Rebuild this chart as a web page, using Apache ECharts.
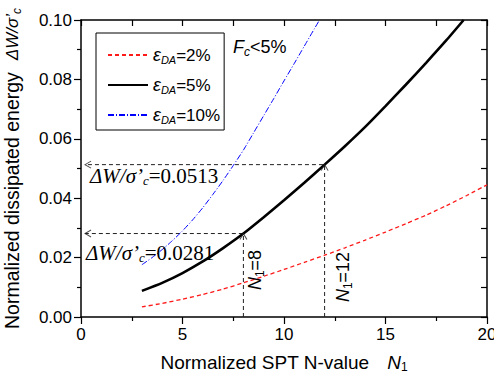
<!DOCTYPE html>
<html><head><meta charset="utf-8">
<script src="https://cdn.jsdelivr.net/npm/echarts@6/dist/echarts.min.js"></script>
<style>html,body{margin:0;padding:0;background:#fff}#c{width:494px;height:381px}</style>
</head><body><div id="c"></div>
<script>
// ---- data ----
const nRed = [3,4,5,6,7,8,9,10,11,12,13,14,15,16,17,18,19,20];
const wRed = [0.0034,0.0046,0.0060,0.0076,0.0094,0.0115,0.0137,0.0160,0.0184,0.0208,0.0233,0.0259,0.0286,0.0314,0.0343,0.0375,0.0409,0.0445];
const nBlack = [3,4,5,6,7,8,9,10,11,12,13,14,15,16,17,18,18.85];
const wBlack = [0.0088,0.0115,0.0148,0.0187,0.0232,0.0281,0.0336,0.0393,0.0452,0.0513,0.0575,0.0640,0.0710,0.0782,0.0856,0.0932,0.1000];
const nBlue = [3,3.5,4,4.5,5,5.5,6,6.5,7,7.5,8,8.5,9,9.5,10,10.5,11,11.5,11.75];
const wBlue = [0.0176,0.0200,0.0227,0.0257,0.0290,0.0327,0.0368,0.0413,0.0460,0.0510,0.0562,0.0620,0.0678,0.0736,0.0795,0.0853,0.0912,0.0971,0.1000];
const epsLabels = ['2%','5%','10%'];
const guideN = [8, 12];
const guideW = [0.0281, 0.0513];
const guideLeftN = 0.2;
const xTicks = [0,5,10,15,20];
const yTicks = [0.00,0.02,0.04,0.06,0.08,0.10];

const pair = (xs, ys) => xs.map((x, i) => [x, ys[i]]);
const names = epsLabels.map(p => 'eps' + p);
const SANS = 'Liberation Sans';
const SERIF = 'Liberation Serif';

const chart = echarts.init(document.getElementById('c'), null, {renderer: 'svg'});

const guideLines = guideN.map((n, i) => ({
  type: 'line', silent: true, symbol: 'none', animation: false, z: 3,
  data: [[n, 0], [n, guideW[i]], [guideLeftN, guideW[i]]],
  lineStyle: {color: '#222', width: 1, type: [4, 3]}
}));

const option = {
  animation: false,
  backgroundColor: '#fff',
  grid: {left: 81, right: 7, top: 20, bottom: 64, outerBoundsMode: 'none', containLabel: false},
  xAxis: [{
    type: 'value', min: xTicks[0], max: xTicks[xTicks.length - 1], interval: xTicks[1] - xTicks[0], position: 'bottom',
    axisLine: {onZero: false, lineStyle: {color: '#000', width: 1.5}},
    axisTick: {inside: false, length: 7, lineStyle: {color: '#000', width: 1.2}},
    minorTick: {show: true, splitNumber: 2, length: 4, lineStyle: {color: '#000', width: 1.2}},
    splitLine: {show: false}, minorSplitLine: {show: false},
    axisLabel: {fontSize: 17, color: '#000', fontFamily: SANS, margin: 9},
    name: '{t|Normalized SPT N-value}{i|N}{s|1}',
    nameLocation: 'middle', nameGap: 34,
    nameTextStyle: {rich: {
      t: {fontSize: 19, fontFamily: SANS, color: '#000', lineHeight: 22, padding: [0, 18, 0, 0]},
      i: {fontSize: 19, fontFamily: SANS, fontStyle: 'italic', color: '#000', lineHeight: 22},
      s: {fontSize: 12, fontFamily: SANS, color: '#000', lineHeight: 6, verticalAlign: 'bottom'}
    }}
  }, {
    type: 'value', min: 0, max: 20, interval: 2.5, position: 'top',
    axisLine: {onZero: false, lineStyle: {color: '#000', width: 1.5}},
    axisTick: {inside: true, length: 6, lineStyle: {color: '#000', width: 1.2}},
    axisLabel: {show: false}, splitLine: {show: false}
  }],
  yAxis: [{
    type: 'value', min: yTicks[0], max: yTicks[yTicks.length - 1], interval: 0.02, position: 'left',
    axisLine: {show: true, onZero: false, lineStyle: {color: '#000', width: 1.5}},
    axisTick: {show: true, inside: false, length: 7, lineStyle: {color: '#000', width: 1.2}},
    minorTick: {show: true, splitNumber: 2, length: 4, lineStyle: {color: '#000', width: 1.2}},
    splitLine: {show: false}, minorSplitLine: {show: false},
    axisLabel: {fontSize: 17, color: '#000', fontFamily: SANS, margin: 9, formatter: v => v.toFixed(2)},
    name: '{t|Normalized dissipated energy}{i|ΔW/σ}{p|’}{s|c}',
    nameLocation: 'middle', nameGap: 58, nameRotate: 90,
    nameTextStyle: {rich: {
      t: {fontSize: 19.5, fontFamily: SANS, color: '#000', lineHeight: 22, padding: [0, 12, 0, 0]},
      i: {fontSize: 17, fontFamily: SANS, fontStyle: 'italic', color: '#000', lineHeight: 22},
      p: {fontSize: 17, fontFamily: SANS, fontStyle: 'italic', color: '#000', lineHeight: 22},
      s: {fontSize: 12, fontFamily: SANS, fontStyle: 'italic', color: '#000', lineHeight: 6, verticalAlign: 'bottom'}
    }}
  }, {
    type: 'value', min: 0, max: 0.1, interval: 0.01, position: 'right',
    axisLine: {show: true, onZero: false, lineStyle: {color: '#000', width: 1.5}},
    axisTick: {show: true, inside: true, length: 6, lineStyle: {color: '#000', width: 1.2}},
    axisLabel: {show: false}, splitLine: {show: false}
  }],
  legend: {
    show: true, orient: 'vertical', left: 96, top: 33,
    padding: [13, 4, 5, 11], itemGap: 11, itemWidth: 40, itemHeight: 12,
    borderColor: '#000', borderWidth: 1, backgroundColor: '#fff',
    data: names, selectedMode: false,
    itemStyle: {opacity: 0, borderWidth: 0},
    formatter: name => '{e|ε}{s|DA}{n|=' + name.slice(3) + '}',
    textStyle: {rich: {
      e: {fontSize: 18, fontFamily: SANS, fontStyle: 'italic', color: '#000', lineHeight: 20},
      s: {fontSize: 11, fontFamily: SANS, fontStyle: 'italic', color: '#000', lineHeight: 6, verticalAlign: 'bottom'},
      n: {fontSize: 17, fontFamily: SANS, color: '#000', lineHeight: 20}
    }}
  },
  series: [
    {name: names[0], type: 'line', symbol: 'none', smooth: 0.2, z: 4, data: pair(nRed, wRed),
     lineStyle: {color: '#ff1a1a', width: 1.3, type: [4, 3]}, itemStyle: {color: '#ff1a1a'}},
    {name: names[1], type: 'line', symbol: 'none', smooth: 0.2, z: 5, data: pair(nBlack, wBlack),
     lineStyle: {color: '#000', width: 2.6, type: 'solid'}, itemStyle: {color: '#000'}},
    {name: names[2], type: 'line', symbol: 'none', smooth: 0.2, z: 4, data: pair(nBlue, wBlue),
     lineStyle: {color: '#0000ff', width: 1, type: [6, 2, 1, 2]}, itemStyle: {color: '#0000ff'}},
    ...guideLines,
    {type: 'scatter', silent: true, z: 6, data: guideN.map((n, i) => [n, guideW[i]]),
     symbol: 'path://M0,10L5,0L10,10', symbolSize: [7, 6], symbolOffset: [0, '50%'],
     itemStyle: {color: 'rgba(0,0,0,0)', borderColor: '#222', borderWidth: 1}},
    {type: 'scatter', silent: true, z: 6, data: guideW.map(w => [guideLeftN, w]),
     symbol: 'path://M10,0L0,5L10,10', symbolSize: [6, 7], symbolOffset: ['50%', 0],
     itemStyle: {color: 'rgba(0,0,0,0)', borderColor: '#222', borderWidth: 1}}
  ]
};
chart.setOption(option);

// annotations anchored to data coordinates
const px = (n, w) => chart.convertToPixel({xAxisIndex: 0, yAxisIndex: 0}, [n, w]);
const serifRich = {
  i: {fontSize: 21, fontFamily: SERIF, fontStyle: 'italic', fill: '#000', lineHeight: 22},
  s: {fontSize: 13, fontFamily: SERIF, fontStyle: 'italic', fill: '#000', lineHeight: 6, verticalAlign: 'bottom'},
  n: {fontSize: 21, fontFamily: SERIF, fill: '#000', lineHeight: 22}
};
const sansRich = {
  i: {fontSize: 18, fontFamily: SANS, fontStyle: 'italic', fill: '#000', lineHeight: 22},
  s: {fontSize: 12, fontFamily: SANS, fontStyle: 'italic', fill: '#000', lineHeight: 6, verticalAlign: 'bottom'},
  u: {fontSize: 12, fontFamily: SANS, fill: '#000', lineHeight: 6, verticalAlign: 'bottom'},
  n: {fontSize: 18, fontFamily: SANS, fill: '#000', lineHeight: 22}
};
const labelDx = [5, 9];
const labelDy = [19, 11];
const nLabelDx = [12, 18];
const nLabelDy = [47, 40];
const graphics = [];
guideN.forEach((n, i) => {
  const p = px(0, guideW[i]);
  graphics.push({type: 'text', x: p[0] + labelDx[i], y: p[1] + labelDy[i], z: 10,
    style: {text: '{i|ΔW/σ’}{s|c}{n|=' + guideW[i].toFixed(4) + '}', rich: serifRich, align: 'left', verticalAlign: 'middle'}});
  const q = px(n, 0);
  graphics.push({type: 'text', x: q[0] + nLabelDx[i], y: q[1] - nLabelDy[i], rotation: Math.PI / 2, z: 10,
    style: {text: '{i|N}{u|1}{n|=' + n + '}', rich: sansRich, align: 'center', verticalAlign: 'middle'}});
});
graphics.push({type: 'text', x: 233, y: 47, z: 10,
  style: {text: '{i|F}{s|c}{n|<5%}', rich: sansRich, align: 'left', verticalAlign: 'middle'}});
chart.setOption({graphic: graphics});
</script></body></html>
